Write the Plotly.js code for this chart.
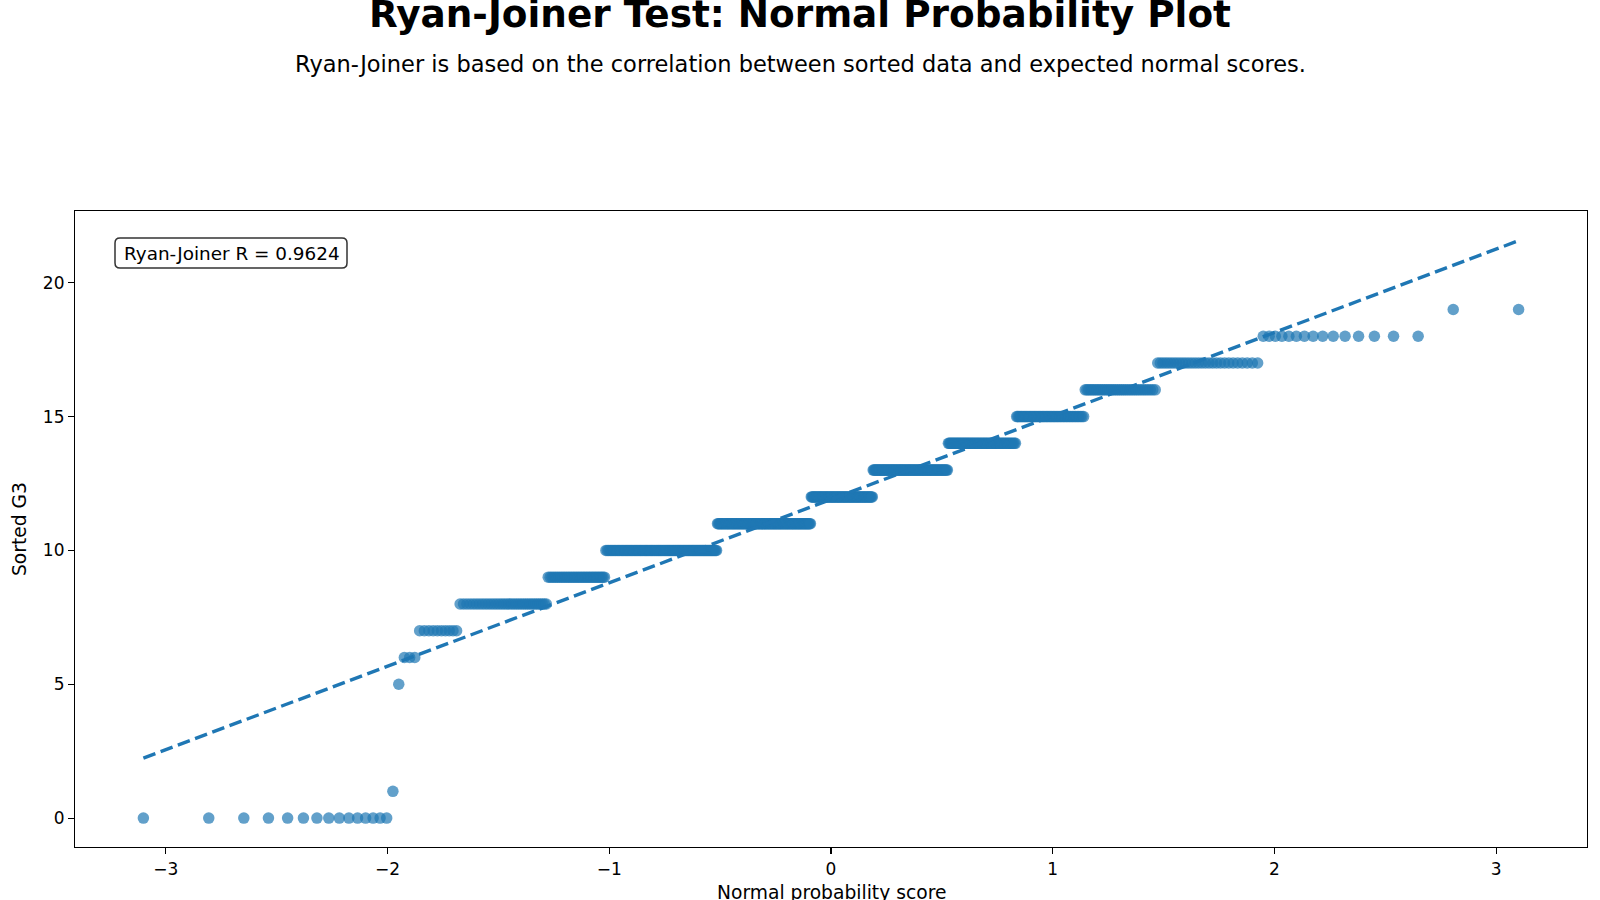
<!DOCTYPE html>
<html>
<head>
<meta charset="utf-8">
<script src="https://cdn.plot.ly/plotly-3.0.1.min.js"></script>
<style>
  html, body { margin: 0; padding: 0; background: #ffffff; }
  #chart { width: 1600px; height: 900px; }
</style>
</head>
<body>
<div id="chart"></div>
<script>
// Final grade (G3) values and how many students received each one
const gradeValues = [0, 1, 5, 6, 7, 8, 9, 10, 11, 12, 13, 14, 15, 16, 17, 18, 19];
const gradeCounts = [15, 1, 1, 3, 10, 35, 35, 97, 104, 72, 82, 63, 49, 36, 29, 15, 2];
const ryanJoinerR = 0.9624;

const xTickVals = [-3, -2, -1, 0, 1, 2, 3];
const yTickVals = [0, 5, 10, 15, 20];

// Inverse standard normal CDF (Acklam's rational approximation)
function normInv(p) {
  const a = [-3.969683028665376e+01, 2.209460984245205e+02, -2.759285104469687e+02,
             1.383577518672690e+02, -3.066479806614716e+01, 2.506628277459239e+00];
  const b = [-5.447609879822406e+01, 1.615858368580409e+02, -1.556989798598866e+02,
             6.680131188771972e+01, -1.328068155833161e+01];
  const c = [-7.784894002430293e-03, -3.223964580411365e-01, -2.400758277161838e+00,
             -2.549732539343734e+00, 4.374664141464968e+00, 2.938163982698783e+00];
  const d = [7.784695709041462e-03, 3.224671290700398e-01, 2.445134137352400e+00,
             3.754408661907416e+00];
  const plow = 0.02425, phigh = 1 - plow;
  let q, r;
  if (p < plow) {
    q = Math.sqrt(-2 * Math.log(p));
    return (((((c[0]*q + c[1])*q + c[2])*q + c[3])*q + c[4])*q + c[5]) /
           ((((d[0]*q + d[1])*q + d[2])*q + d[3])*q + 1);
  }
  if (p <= phigh) {
    q = p - 0.5; r = q * q;
    return (((((a[0]*r + a[1])*r + a[2])*r + a[3])*r + a[4])*r + a[5]) * q /
           (((((b[0]*r + b[1])*r + b[2])*r + b[3])*r + b[4])*r + 1);
  }
  q = Math.sqrt(-2 * Math.log(1 - p));
  return -(((((c[0]*q + c[1])*q + c[2])*q + c[3])*q + c[4])*q + c[5]) /
          ((((d[0]*q + d[1])*q + d[2])*q + d[3])*q + 1);
}

// Sorted sample and Blom normal scores
const sortedG3 = [];
gradeValues.forEach((v, i) => { for (let k = 0; k < gradeCounts[i]; k++) sortedG3.push(v); });
const n = sortedG3.length;
const normalScores = sortedG3.map((_, i) => normInv((i + 1 - 0.375) / (n + 0.25)));

// Least-squares reference line
const mx = normalScores.reduce((s, v) => s + v, 0) / n;
const my = sortedG3.reduce((s, v) => s + v, 0) / n;
let sxy = 0, sxx = 0;
for (let i = 0; i < n; i++) {
  sxy += (normalScores[i] - mx) * (sortedG3[i] - my);
  sxx += (normalScores[i] - mx) ** 2;
}
const slope = sxy / sxx;
const intercept = my - slope * mx;
const lineX = [normalScores[0], normalScores[n - 1]];
const lineY = lineX.map(x => intercept + slope * x);

const FONT = 'DejaVu Sans, Arial, sans-serif';
const BLUE = '#1f77b4';

// Plot area geometry (pixels)
const M = { l: 75, r: 13, t: 211, b: 53 };
const W = 1600 - M.l - M.r, H = 900 - M.t - M.b;
const px2x = px => (px - M.l) / W;
const px2y = py => (900 - M.b - py) / H;

// Rounded box behind the statistic label
function roundedBox(x0, y0, x1, y1, r) {
  const X = px2x, Y = px2y;
  return `M ${X(x0 + r)} ${Y(y0)} L ${X(x1 - r)} ${Y(y0)} Q ${X(x1)} ${Y(y0)} ${X(x1)} ${Y(y0 + r)} ` +
         `L ${X(x1)} ${Y(y1 - r)} Q ${X(x1)} ${Y(y1)} ${X(x1 - r)} ${Y(y1)} ` +
         `L ${X(x0 + r)} ${Y(y1)} Q ${X(x0)} ${Y(y1)} ${X(x0)} ${Y(y1 - r)} ` +
         `L ${X(x0)} ${Y(y0 + r)} Q ${X(x0)} ${Y(y0)} ${X(x0 + r)} ${Y(y0)} Z`;
}

const traces = [
  {
    x: normalScores, y: sortedG3, type: 'scatter', mode: 'markers',
    marker: { color: BLUE, size: 11.5, opacity: 0.7, line: { width: 0 } },
    hoverinfo: 'x+y', showlegend: false
  },
  {
    x: lineX, y: lineY, type: 'scatter', mode: 'lines',
    line: { color: BLUE, width: 3.4, dash: '12.8px,5.6px' },
    hoverinfo: 'skip', showlegend: false
  }
];

const axisCommon = {
  showgrid: false, zeroline: false, showline: true, mirror: true,
  linecolor: '#000000', linewidth: 1.1,
  ticks: 'outside', ticklen: 6, tickwidth: 1.1, tickcolor: '#000000',
  tickfont: { family: FONT, size: 17, color: '#000000' },
  automargin: false
};

const layout = {
  width: 1600, height: 900,
  paper_bgcolor: '#ffffff', plot_bgcolor: '#ffffff',
  margin: M,
  font: { family: FONT, color: '#000000' },
  title: {
    text: '<b>Ryan-Joiner Test: Normal Probability Plot</b>',
    font: { family: FONT, size: 37.4, color: '#000000' },
    x: 0.5, xref: 'container', xanchor: 'center',
    y: 1 - 14 / 900, yref: 'container', yanchor: 'middle'
  },
  xaxis: Object.assign({}, axisCommon, {
    range: [-3.41, 3.41], tickmode: 'array', tickvals: xTickVals
  }),
  yaxis: Object.assign({}, axisCommon, {
    range: [-1.08, 22.68], tickmode: 'array', tickvals: yTickVals,
    title: { text: 'Sorted G3', font: { family: FONT, size: 18.7 }, standoff: 11 }
  }),
  shapes: [{
    type: 'path', xref: 'paper', yref: 'paper',
    path: roundedBox(115, 238, 347, 268, 5),
    line: { color: '#333333', width: 1.5 }, fillcolor: '#ffffff', layer: 'above'
  }],
  annotations: [
    {
      text: 'Ryan-Joiner is based on the correlation between sorted data and expected normal scores.',
      xref: 'paper', yref: 'paper', x: px2x(800), y: px2y(64),
      xanchor: 'center', yanchor: 'middle', showarrow: false,
      font: { family: FONT, size: 22.5, color: '#000000' }
    },
    {
      text: 'Normal probability score',
      xref: 'paper', yref: 'paper', x: 0.5, y: px2y(880),
      xanchor: 'center', yanchor: 'top', showarrow: false,
      font: { family: FONT, size: 18.7, color: '#000000' }
    },
    {
      text: 'Ryan-Joiner R = ' + ryanJoinerR.toFixed(4),
      xref: 'paper', yref: 'paper', x: px2x(121.5), y: px2y(253),
      xanchor: 'left', yanchor: 'middle', showarrow: false,
      font: { family: FONT, size: 18.4, color: '#000000' }
    }
  ]
};

Plotly.newPlot('chart', traces, layout, { displayModeBar: false, staticPlot: true });
</script>
</body>
</html>
